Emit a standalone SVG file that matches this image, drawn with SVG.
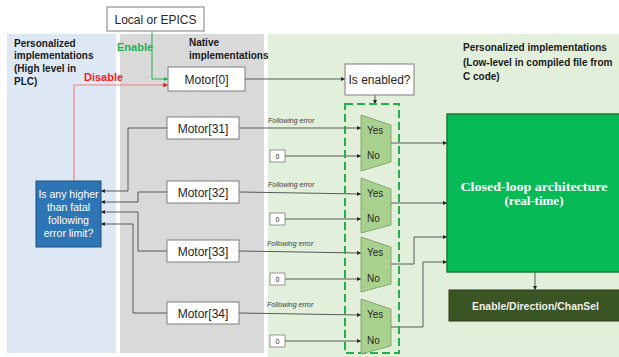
<svg xmlns="http://www.w3.org/2000/svg" width="619" height="357" viewBox="0 0 619 357">
  <style>
    text { font-family: "Liberation Sans", Arial, sans-serif; }
    text.serif { font-family: "Liberation Serif", "Times New Roman", serif; }
    .panel-title { font-size: 10px; font-weight: bold; fill: #1a1a1a; }
    .node { fill: #ffffff; stroke: #7f7f7f; stroke-width: 1; }
    .node-label { font-size: 12px; fill: #262626; text-anchor: middle; }
    .zero { fill: #ffffff; stroke: #7f7f7f; stroke-width: 0.8; }
    .zero-label { font-size: 7px; fill: #262626; text-anchor: middle; }
    .mux { fill: #a9d18e; stroke: #7a9a66; stroke-width: 0.8; }
    .mux-label { font-size: 10px; fill: #262626; }
    .fe { font-size: 7px; font-style: italic; fill: #404040; }
    .wire { fill: none; stroke: #595959; stroke-width: 1; marker-end: url(#arrow); }
  </style>
  <defs>
    <marker id="arrow" viewBox="0 0 6 6" refX="6" refY="3" markerWidth="4" markerHeight="4" orient="auto">
      <path d="M0,0 L6,3 L0,6 z" fill="#262626"/>
    </marker>
    <marker id="arrow-green" viewBox="0 0 6 6" refX="6" refY="3" markerWidth="4" markerHeight="4" orient="auto">
      <path d="M0,0 L6,3 L0,6 z" fill="#22b14c"/>
    </marker>
    <marker id="arrow-red" viewBox="0 0 6 6" refX="6" refY="3" markerWidth="4" markerHeight="4" orient="auto">
      <path d="M0,0 L6,3 L0,6 z" fill="#e02020"/>
    </marker>
  </defs>

  <rect width="619" height="357" fill="#ffffff"/>

  <!-- background panels -->
  <g id="panels">
    <rect x="7" y="34" width="109" height="319" fill="#dee8f4"/>
    <rect x="120" y="34" width="144" height="319" fill="#d9d9d9"/>
    <rect x="268" y="34" width="351" height="323" fill="#e2efda"/>
  </g>

  <g id="panel-titles">
    <text class="panel-title" x="14" y="47">Personalized</text>
    <text class="panel-title" x="14" y="59">implementations</text>
    <text class="panel-title" x="14" y="72">(High level in</text>
    <text class="panel-title" x="14" y="85">PLC)</text>
    <text class="panel-title" x="189" y="46">Native</text>
    <text class="panel-title" x="189" y="59">implementations</text>
    <text class="panel-title" x="463" y="51">Personalized implementations</text>
    <text class="panel-title" x="463" y="66">(Low-level in compiled file from</text>
    <text class="panel-title" x="463" y="80">C code)</text>
  </g>

  <!-- connectors -->
  <g id="connectors">
    <!-- enable / disable into Motor[0] -->
    <path d="M152,31 V79 H168" fill="none" stroke="#22b14c" stroke-width="1" marker-end="url(#arrow-green)"/>
    <text x="117" y="51" font-size="11" font-weight="bold" fill="#22b14c">Enable</text>
    <path d="M74,181 V85 H168" fill="none" stroke="#f08080" stroke-width="1.2" marker-end="url(#arrow-red)"/>
    <text x="84" y="81" font-size="11" font-weight="bold" fill="#ff1a1a">Disable</text>

    <path class="wire" d="M245,79 H345"/>
    <path class="wire" d="M375,95 V104"/>

    <!-- motor following errors into the selectors -->
    <path class="wire" d="M239,128 H361"/>
    <path class="wire" d="M239,192 L361,194"/>
    <path class="wire" d="M239,251 L361,253"/>
    <path class="wire" d="M239,313 L361,315"/>
    <text class="fe" x="268" y="123">Following error</text>
    <text class="fe" x="268" y="187">Following error</text>
    <text class="fe" x="267" y="246">Following error</text>
    <text class="fe" x="267" y="307">Following error</text>

    <!-- zero inputs -->
    <path class="wire" d="M285,156 H361"/>
    <path class="wire" d="M285,219 H361"/>
    <path class="wire" d="M285,279 H361"/>
    <path class="wire" d="M285,341 H361"/>

    <!-- selector outputs -->
    <path class="wire" d="M391,143 H447"/>
    <path class="wire" d="M391,203 H447"/>
    <path class="wire" d="M391,264 H414 V237 H447"/>
    <path class="wire" d="M391,327 H423 V262 H447"/>

    <path class="wire" d="M535,272 V290"/>

    <!-- feedback to the limit check -->
    <path class="wire" d="M167,128 H128 V191 H101"/>
    <path class="wire" d="M167,192 H138 V202 H101"/>
    <path class="wire" d="M167,251 H138 V212 H101"/>
    <path class="wire" d="M167,313 H133 V224 H101"/>
  </g>

  <g id="local-epics">
    <rect class="node" x="107" y="7" width="97" height="24"/>
    <text class="node-label" x="155.5" y="24" font-size="13">Local or EPICS</text>
  </g>

  <g id="motor-0">
    <rect class="node" x="168" y="67" width="77" height="24"/>
    <text class="node-label" x="206.5" y="83.5">Motor[0]</text>
  </g>
  <g id="motor-31">
    <rect class="node" x="167" y="117" width="72" height="22"/>
    <text class="node-label" x="203" y="132.5">Motor[31]</text>
  </g>
  <g id="motor-32">
    <rect class="node" x="167" y="181" width="72" height="22"/>
    <text class="node-label" x="203" y="196.5">Motor[32]</text>
  </g>
  <g id="motor-33">
    <rect class="node" x="167" y="240" width="72" height="22"/>
    <text class="node-label" x="203" y="255.5">Motor[33]</text>
  </g>
  <g id="motor-34">
    <rect class="node" x="167" y="302" width="72" height="22"/>
    <text class="node-label" x="203" y="317.5">Motor[34]</text>
  </g>

  <g id="is-enabled">
    <rect class="node" x="345" y="64" width="69" height="31"/>
    <text class="node-label" x="379.5" y="84">Is enabled?</text>
  </g>

  <g id="limit-check">
    <rect x="36" y="181" width="65" height="66" fill="#2e75b6" stroke="#1f4e79" stroke-width="1"/>
    <g font-size="10.5" fill="#ffffff" text-anchor="middle">
      <text x="68.5" y="198">Is any higher</text>
      <text x="68.5" y="211">than fatal</text>
      <text x="68.5" y="224">following</text>
      <text x="68.5" y="237">error limit?</text>
    </g>
  </g>

  <g id="zero-inputs">
    <rect class="zero" x="270" y="150" width="15" height="12"/>
    <text class="zero-label" x="277.5" y="158.5">0</text>
    <rect class="zero" x="270" y="213" width="15" height="12"/>
    <text class="zero-label" x="277.5" y="221.5">0</text>
    <rect class="zero" x="270" y="273" width="15" height="12"/>
    <text class="zero-label" x="277.5" y="281.5">0</text>
    <rect class="zero" x="270" y="335" width="15" height="12"/>
    <text class="zero-label" x="277.5" y="343.5">0</text>
  </g>

  <!-- enable selectors -->
  <g id="selector-group">
    <rect x="345" y="104" width="54" height="249" fill="none" stroke="#22b14c" stroke-width="2" stroke-dasharray="8,4"/>
  </g>
  <g id="mux-1">
    <polygon class="mux" points="361,115 391,125 391,162 361,171"/>
    <text class="mux-label" x="367" y="134">Yes</text>
    <text class="mux-label" x="367" y="159">No</text>
  </g>
  <g id="mux-2">
    <polygon class="mux" points="361,178 391,189 391,225 361,233"/>
    <text class="mux-label" x="367" y="197">Yes</text>
    <text class="mux-label" x="367" y="222">No</text>
  </g>
  <g id="mux-3">
    <polygon class="mux" points="361,237 391,247 391,284 361,292"/>
    <text class="mux-label" x="367" y="256">Yes</text>
    <text class="mux-label" x="367" y="282">No</text>
  </g>
  <g id="mux-4">
    <polygon class="mux" points="361,299 391,309 391,346 361,354"/>
    <text class="mux-label" x="367" y="318">Yes</text>
    <text class="mux-label" x="367" y="344">No</text>
  </g>

  <g id="closed-loop">
    <rect x="447" y="114" width="180" height="158" fill="#06bb56" stroke="#1e7a3c" stroke-width="1.5"/>
    <text class="serif" x="534" y="191" font-size="13" font-weight="bold" fill="#ffffff" text-anchor="middle" textLength="147" lengthAdjust="spacingAndGlyphs">Closed-loop architecture</text>
    <text class="serif" x="534" y="205" font-size="13" font-weight="bold" fill="#ffffff" text-anchor="middle">(real-time)</text>
  </g>

  <g id="enable-direction">
    <rect x="449" y="290" width="180" height="31" fill="#3a5423" stroke="#2a3d18" stroke-width="1"/>
    <text x="535.5" y="309.5" font-size="11" font-weight="bold" fill="#eeeeee" text-anchor="middle" textLength="127" lengthAdjust="spacingAndGlyphs">Enable/Direction/ChanSel</text>
  </g>
</svg>
